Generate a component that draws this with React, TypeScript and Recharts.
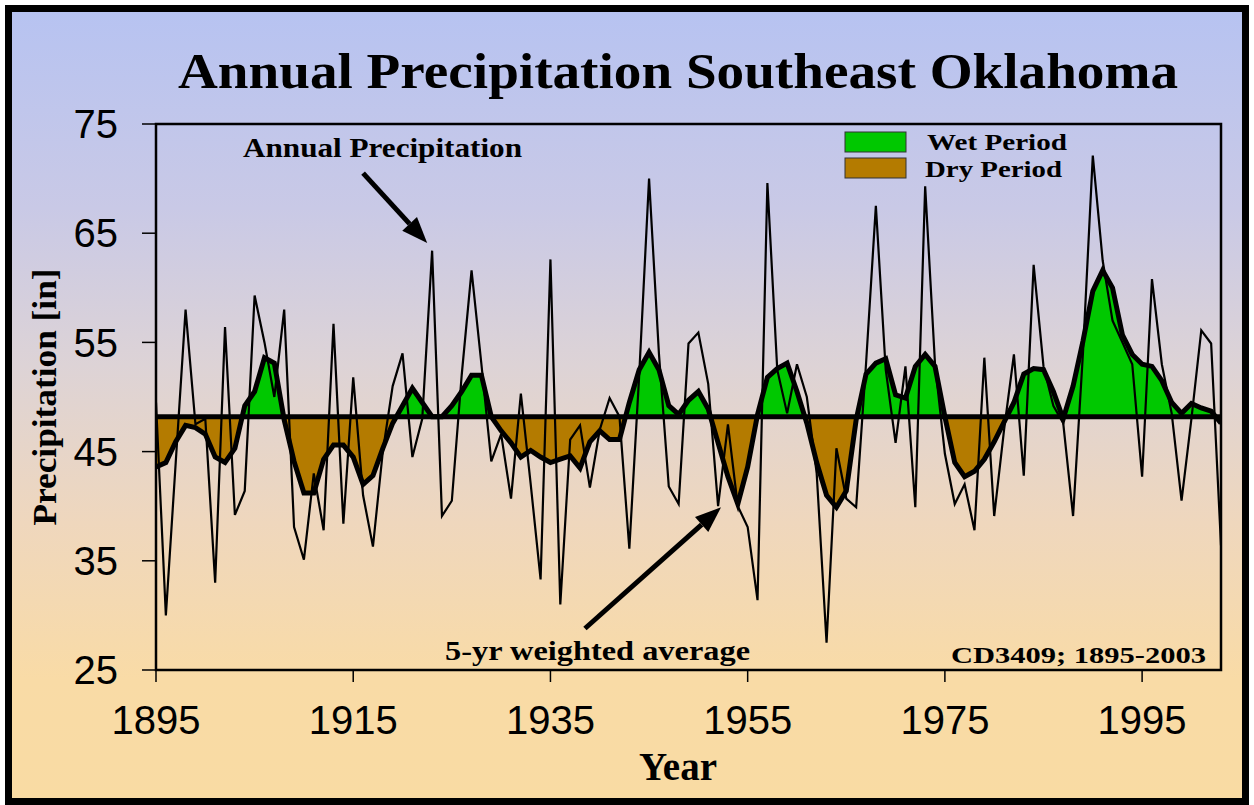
import { ComposedChart, Line, Area, XAxis, YAxis, ReferenceLine, ReferenceArea } from 'recharts';

const startYear = 1895;
const years = Array.from({ length: 109 }, (_, i) => startYear + i);

// annual precipitation [in], 1895-2003
const annual = [
  49.5, 30.0, 44.0, 58.0, 47.5, 48.0, 33.0, 56.4, 39.2, 41.4,
  59.3, 55.0, 50.0, 58.0, 38.1, 35.1, 43.0, 37.8, 56.7, 38.4,
  51.8, 41.0, 36.3, 45.0, 51.0, 54.0, 44.5, 48.0, 63.4, 39.1,
  40.5, 52.0, 61.6, 53.0, 44.1, 46.6, 40.7, 50.3, 42.0, 33.3,
  62.6, 31.0, 46.1, 47.4, 41.7, 47.0, 49.9, 48.2, 36.1, 52.0,
  70.0, 54.0, 41.8, 40.2, 54.9, 55.9, 51.2, 40.0, 47.5, 40.0,
  38.1, 31.4, 69.6, 52.5, 48.5, 53.0, 50.0, 43.0, 27.5, 45.3,
  40.7, 39.9, 53.0, 67.5, 52.5, 45.8, 52.8, 39.9, 69.3, 53.0,
  44.8, 40.2, 42.0, 37.8, 53.6, 39.1, 47.0, 53.9, 42.8, 62.1,
  52.8, 49.2, 47.6, 39.1, 54.0, 72.1, 62.5, 57.0, 55.0, 53.0,
  42.7, 60.8, 53.0, 48.5, 40.5, 48.0, 56.1, 54.9, 36.4,
];

// 5-yr weighted average
const avg5 = [
  43.6, 44.0, 45.9, 47.4, 47.2, 46.6, 44.5, 44.0, 45.3, 49.2,
  50.5, 53.6, 53.1, 47.9, 44.1, 41.2, 41.2, 44.3, 45.6, 45.6,
  44.5, 42.0, 42.8, 45.3, 47.6, 49.2, 50.8, 49.5, 48.2, 48.2,
  49.2, 50.5, 52.0, 52.0, 48.2, 46.9, 45.8, 44.5, 45.1, 44.5,
  44.0, 44.3, 44.6, 43.5, 45.9, 46.9, 46.1, 46.1, 49.5, 52.5,
  54.1, 52.5, 49.2, 48.4, 49.7, 50.5, 48.9, 45.8, 42.7, 40.2,
  43.6, 48.4, 51.8, 52.6, 53.1, 50.5, 47.6, 44.0, 41.0, 39.9,
  41.4, 47.9, 52.1, 53.1, 53.5, 50.2, 49.9, 52.8, 53.9, 52.8,
  48.2, 44.0, 42.7, 43.2, 44.3, 45.9, 47.7, 49.5, 52.1, 52.6,
  52.5, 50.5, 48.0, 51.0, 55.1, 59.7, 61.6, 60.0, 55.7, 53.9,
  53.0, 52.8, 51.5, 49.5, 48.5, 49.4, 49.0, 48.7, 47.6,
];

const MEAN = 48.2;
const xTicks = [1895, 1915, 1935, 1955, 1975, 1995];
const yTicks = [25, 35, 45, 55, 65, 75];

const GREEN = '#00c800';
const BROWN = '#b47b00';
const SERIF = '"Liberation Serif", "Times New Roman", serif';
const SANS = '"Liberation Sans", Arial, sans-serif';

const data = years.map((year, i) => ({ year, annual: annual[i], avg: avg5[i] }));

const hi = Math.max(MEAN, ...avg5);
const lo = Math.min(MEAN, ...avg5);
const split = (hi - MEAN) / (hi - lo);

const Arrow = (p: any) => {
  const { x1, y1, x2, y2 } = p;
  const ang = Math.atan2(y2 - y1, x2 - x1);
  const len = 26;
  const half = 10;
  const bx = x2 - len * Math.cos(ang);
  const by = y2 - len * Math.sin(ang);
  const nx = -Math.sin(ang) * half;
  const ny = Math.cos(ang) * half;
  return (
    <g>
      <line x1={x1} y1={y1} x2={bx} y2={by} stroke="#000" strokeWidth={5} />
      <polygon points={`${x2},${y2} ${bx + nx},${by + ny} ${bx - nx},${by - ny}`} fill="#000" />
    </g>
  );
};

const App = () => {
  return (
    <div style={{ position: 'absolute', left: 0, top: 0, width: 1254, height: 805, background: '#fff' }}>
      <div
        style={{
          position: 'absolute',
          left: 5,
          top: 5,
          width: 1244,
          height: 800,
          boxSizing: 'border-box',
          border: '7px solid #000',
          background: 'linear-gradient(to bottom, #b7c3f1 0%, #c9c9e6 25%, #ddd3d6 45%, #efd7bd 65%, #f9dba6 85%, #f9dba3 100%)',
        }}
      />
      <div style={{ position: 'absolute', left: 0, top: 0 }}>
        <ComposedChart width={1254} height={805} data={data} margin={{ top: 124, right: 33, bottom: 0, left: 0 }}>
          <defs>
            <linearGradient id="wetdry" x1="0" y1="0" x2="0" y2="1">
              <stop offset={split} stopColor={GREEN} />
              <stop offset={split} stopColor={BROWN} />
            </linearGradient>
          </defs>
          <XAxis
            dataKey="year"
            type="number"
            domain={[1895, 2003]}
            ticks={xTicks}
            height={135}
            tickSize={12}
            tickMargin={24}
            tick={{ fontSize: 40, fill: '#000', fontFamily: SANS }}
            axisLine={{ stroke: '#000', strokeWidth: 2 }}
            tickLine={{ stroke: '#000', strokeWidth: 1.5 }}
            allowDataOverflow
          />
          <YAxis
            type="number"
            domain={[25, 75]}
            ticks={yTicks}
            width={156}
            tickSize={14}
            tickMargin={24}
            tick={{ fontSize: 40, fill: '#000', fontFamily: SANS }}
            axisLine={{ stroke: '#000', strokeWidth: 2 }}
            tickLine={{ stroke: '#000', strokeWidth: 1.5 }}
            allowDataOverflow
          />
          <ReferenceArea x1={1895} x2={2003} y1={25} y2={75} fill="none" stroke="#000" strokeWidth={2.5} fillOpacity={0} />
          <Area
            type="linear"
            dataKey={(d: any) => [MEAN, d.avg]}
            fill="url(#wetdry)"
            fillOpacity={1}
            stroke="none"
            isAnimationActive={false}
          />
          <ReferenceLine y={MEAN} stroke="#000" strokeWidth={5} />
          <Line type="linear" dataKey="annual" stroke="#000" strokeWidth={2.2} dot={false} isAnimationActive={false} />
          <Line type="linear" dataKey="avg" stroke="#000" strokeWidth={5} dot={false} isAnimationActive={false} />
          <ReferenceLine segment={[{ x: 1916.0, y: 70.5 }, { x: 1922.5, y: 64.1 }]} shape={Arrow} />
          <ReferenceLine segment={[{ x: 1938.5, y: 28.8 }, { x: 1952.3, y: 39.9 }]} shape={Arrow} />
        </ComposedChart>
      </div>
      <svg width={1254} height={805} style={{ position: 'absolute', left: 0, top: 0, pointerEvents: 'none' }}>
        <text x={678} y={88} textAnchor="middle" fontFamily={SERIF} fontWeight="bold" fontSize={50} textLength={1000} lengthAdjust="spacingAndGlyphs">
          Annual Precipitation Southeast Oklahoma
        </text>
        <text x={243} y={157} fontFamily={SERIF} fontWeight="bold" fontSize={27} textLength={279} lengthAdjust="spacingAndGlyphs">
          Annual Precipitation
        </text>
        <text x={445} y={660} fontFamily={SERIF} fontWeight="bold" fontSize={27} textLength={305} lengthAdjust="spacingAndGlyphs">
          5-yr weighted average
        </text>
        <text x={951} y={663} fontFamily={SERIF} fontWeight="bold" fontSize={24} textLength={255} lengthAdjust="spacingAndGlyphs">
          CD3409; 1895-2003
        </text>
        <rect x={845} y={132} width={61} height={20} fill={GREEN} stroke="#333" strokeWidth={1} />
        <rect x={845} y={158} width={61} height={20} fill={BROWN} stroke="#333" strokeWidth={1} />
        <text x={927} y={150} fontFamily={SERIF} fontWeight="bold" fontSize={23} textLength={140} lengthAdjust="spacingAndGlyphs">
          Wet Period
        </text>
        <text x={925} y={177} fontFamily={SERIF} fontWeight="bold" fontSize={23} textLength={137} lengthAdjust="spacingAndGlyphs">
          Dry Period
        </text>
        <text x={678} y={780} textAnchor="middle" fontFamily={SERIF} fontWeight="bold" fontSize={39}>
          Year
        </text>
        <text
          x={0}
          y={0}
          transform="translate(56 397) rotate(-90)"
          textAnchor="middle"
          fontFamily={SERIF}
          fontWeight="bold"
          fontSize={34}
          textLength={257}
          lengthAdjust="spacingAndGlyphs"
        >
          Precipitation [in]
        </text>
      </svg>
    </div>
  );
};

export default App;
